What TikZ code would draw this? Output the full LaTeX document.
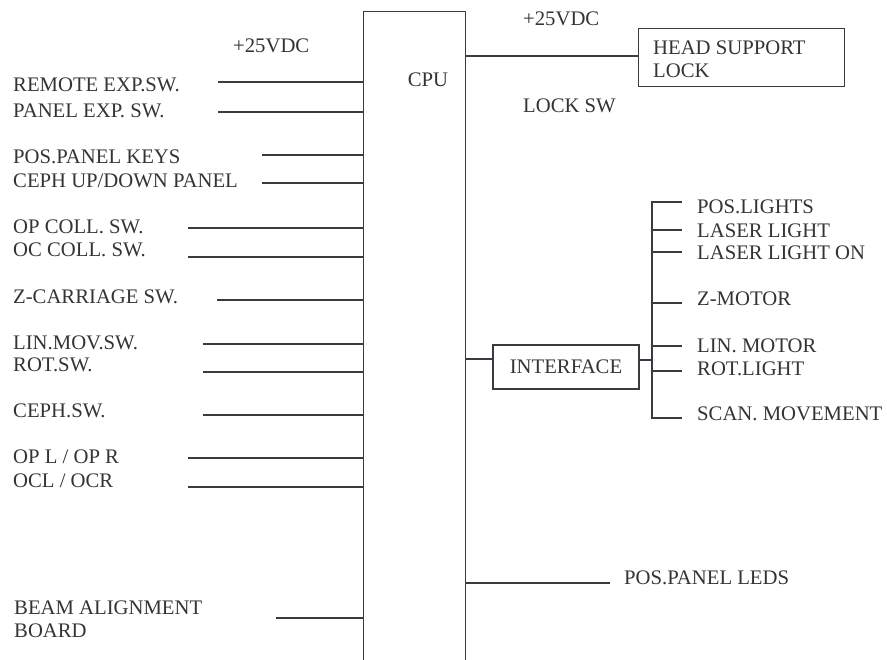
\documentclass[tikz,border=0pt]{standalone}
\usepackage{fontspec}
\setmainfont{Liberation Serif}
\begin{document}
\begin{tikzpicture}[x=1pt,y=-1pt,
  ln/.style={line width=1.4pt, draw=linec},
  lbl/.style={anchor=west, inner sep=0pt, text height=13.7pt, text depth=0pt, font=\fontsize{20.7}{23}\selectfont, text=txtc},
  boxn/.style={draw=linec, line width=1.4pt, inner sep=0pt}]
\definecolor{linec}{HTML}{3A3A42}
\definecolor{txtc}{HTML}{333338}
\useasboundingbox (0,0) rectangle (887,660);
\clip (0,0) rectangle (887,660);
% CPU
\node[boxn, minimum width=102pt, minimum height=700pt, anchor=north west] (cpu) at (363,11) {};
\node[lbl, anchor=center] (cpul) at (428,80) {CPU};
\node[lbl] (v25a) at (233,46) {+25VDC};
\node[lbl] (v25b) at (523,19) {+25VDC};
\node[lbl] (locksw) at (523,106) {LOCK SW};
% left inputs
\node[lbl] (t1) at (13,85) {REMOTE EXP.SW.};
\node[lbl] (t2) at (13,111) {PANEL EXP. SW.};
\node[lbl] (t3) at (13,157) {POS.PANEL KEYS};
\node[lbl] (t4) at (13,181) {CEPH UP/DOWN PANEL};
\node[lbl] (t5) at (13,227) {OP COLL. SW.};
\node[lbl] (t6) at (13,250) {OC COLL. SW.};
\node[lbl] (t7) at (13,297) {Z-CARRIAGE SW.};
\node[lbl] (t8) at (13,343) {LIN.MOV.SW.};
\node[lbl] (t9) at (13,365) {ROT.SW.};
\node[lbl] (t10) at (13,411) {CEPH.SW.};
\node[lbl] (t11) at (13,457) {OP L / OP R};
\node[lbl] (t12) at (13,481) {OCL / OCR};
\node[lbl] (t13) at (14,608) {BEAM ALIGNMENT};
\node[lbl] (t14) at (14,631) {BOARD};
\coordinate (c1) at (218,82);
\coordinate (c2) at (218,112);
\coordinate (c3) at (262,155);
\coordinate (c4) at (262,183);
\coordinate (c5) at (188,228);
\coordinate (c6) at (188,257);
\coordinate (c7) at (217,300);
\coordinate (c8) at (203,344);
\coordinate (c9) at (203,372);
\coordinate (c10) at (203,415);
\coordinate (c11) at (188,458);
\coordinate (c12) at (188,487);
\coordinate (c13) at (276,618);
\foreach \i in {1,...,13} {\draw[ln] (c\i) -- (c\i -| cpu.west);}
% head support lock
\node[boxn, minimum width=206pt, minimum height=58pt, anchor=north west] (hsl) at (638,28) {};
\node[lbl] (hs1) at (653,48) {HEAD SUPPORT};
\node[lbl] (hs2) at (653,71) {LOCK};
\coordinate (hy) at (0,56);
\draw[ln] (cpu.east |- hy) -- (hsl.west |- hy);
% interface
\node[boxn, minimum width=146pt, minimum height=44pt, font=\fontsize{20.7}{23}\selectfont, text=txtc] (iface) at (566,367) {INTERFACE};
\coordinate (iy) at (0,359);
\draw[ln] (cpu.east |- iy) -- (iface.west |- iy);
\coordinate (bt) at (652,202);
\coordinate (bb) at (652,418);
\coordinate (bt2) at (682,202);
\coordinate (bb2) at (682,418);
\draw[ln] (bt2) -- (bt) -- (bb) -- (bb2);
\coordinate (iy2) at (0,360);
\draw[ln] (iface.east |- iy2) -- (bt |- iy2);
\foreach \y in {230,252,303,346,371} {\draw[ln] (652,\y) -- (682,\y);}
\node[lbl] (o1) at (697,207) {POS.LIGHTS};
\node[lbl] (o2) at (697,231) {LASER LIGHT};
\node[lbl] (o3) at (697,253) {LASER LIGHT ON};
\node[lbl] (o4) at (697,299) {Z-MOTOR};
\node[lbl] (o5) at (697,346) {LIN. MOTOR};
\node[lbl] (o6) at (697,369) {ROT.LIGHT};
\node[lbl] (o7) at (697,414) {SCAN. MOVEMENT};
% pos panel leds
\node[lbl] (leds) at (624,578) {POS.PANEL LEDS};
\coordinate (ly) at (610,583);
\draw[ln] (cpu.east |- ly) -- (ly);
\end{tikzpicture}
\end{document}
